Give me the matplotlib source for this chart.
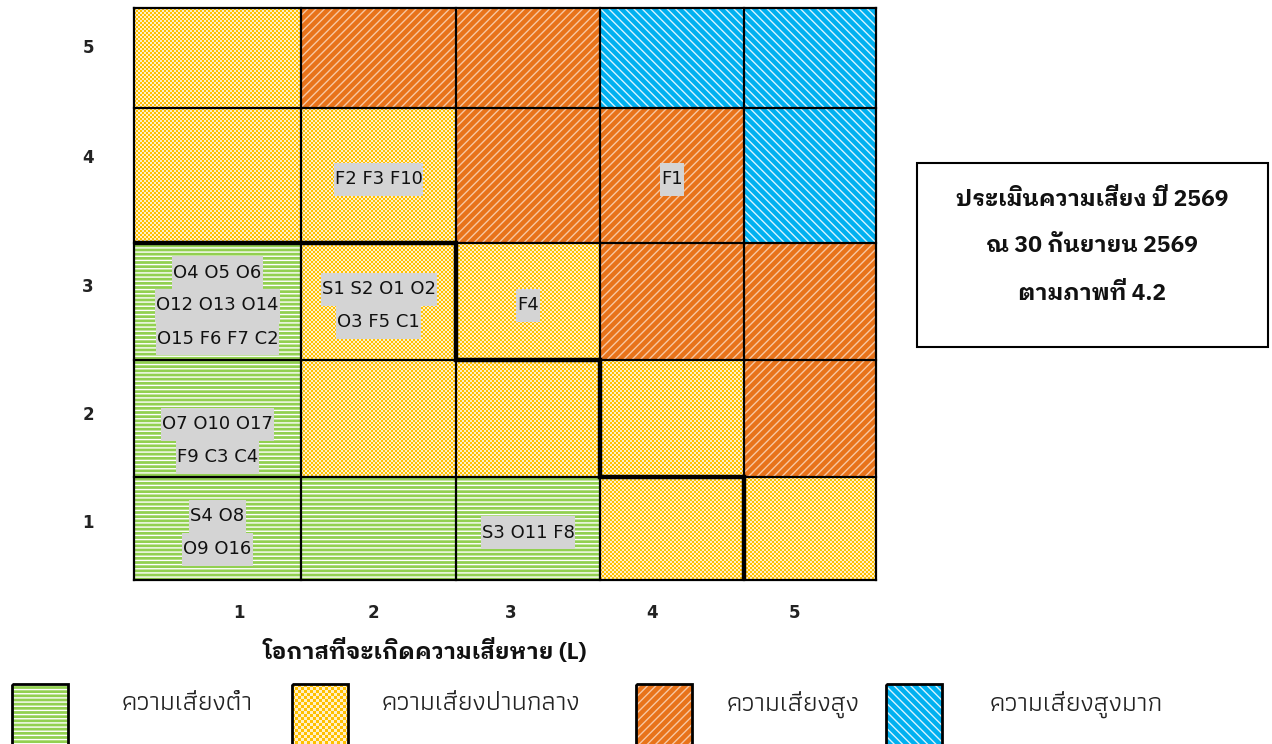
import numpy as np
import matplotlib
matplotlib.use("Agg")
import matplotlib.pyplot as plt
from matplotlib.patches import Rectangle
from matplotlib.colors import ListedColormap

# ---- data ---------------------------------------------------------------
impact_levels = [5, 4, 3, 2, 1]          # rows, top to bottom
likelihood_levels = [1, 2, 3, 4, 5]      # columns, left to right

# risk level of every cell: rows follow impact_levels, columns likelihood_levels
risk_grid = [
    ["medium", "high",   "high",   "very_high", "very_high"],
    ["medium", "medium", "high",   "high",      "very_high"],
    ["low",    "medium", "medium", "high",      "high"],
    ["low",    "medium", "medium", "medium",    "high"],
    ["low",    "low",    "low",    "medium",    "medium"],
]

# risk items placed in the matrix, keyed by (impact, likelihood)
cell_items = {
    (4, 2): ["F2 F3 F10"],
    (4, 4): ["F1"],
    (3, 1): ["O4 O5 O6", "O12 O13 O14", "O15 F6 F7 C2"],
    (3, 2): ["S1 S2 O1 O2", "O3 F5 C1"],
    (3, 3): ["F4"],
    (2, 1): ["O7 O10 O17", "F9 C3 C4"],
    (1, 1): ["S4 O8", "O9 O16"],
    (1, 3): ["S3 O11 F8"],
}

# highest acceptable impact for each likelihood column (risk appetite line)
appetite_limit = [3, 3, 2, 1, 0]

level_names = ["low", "medium", "high", "very_high"]
level_labels = ["ความเสี่ยงต่ำ", "ความเสี่ยงปานกลาง", "ความเสี่ยงสูง", "ความเสี่ยงสูงมาก"]

x_title = "โอกาสที่จะเกิดความเสียหาย (L)"
note_lines = ["ประเมินความเสี่ยง ปี 2569", "ณ 30 กันยายน 2569", "ตามภาพที่ 4.2"]

# ---- styling / layout ---------------------------------------------------
level_style = {
    "low":       dict(fc="#92D050", hatch="----", hc="#FFFFFF"),
    "medium":    dict(fc="#FFC000", checker="#FFF0C8"),
    "high":      dict(fc="#E8731A", hatch="////", hc="#F7C7A2"),
    "very_high": dict(fc="#00B0F0", hatch="\\\\\\\\", hc="#D8F3FD"),
}

W, H = 1272, 744
col_edges = [134, 301, 456, 600, 744, 876]
row_edges = [8, 108, 243, 360, 477, 580]
ytick_x, ytick_pos = 88, [48, 158, 287, 415, 523]
xtick_y, xtick_pos = 613, [239, 373, 511, 652, 794]
line_gap = 33
label_nudge = {(2, 1): 22}

thai_bold = dict(family=["IBM Plex Sans Thai Looped", "DejaVu Sans"], fontweight="bold")
thai_light = dict(family=["Athiti", "DejaVu Sans"])

plt.rcParams["hatch.linewidth"] = 1.0

fig = plt.figure(figsize=(W / 100, H / 100), dpi=100)
ax = fig.add_axes([0, 0, 1, 1])
ax.set_xlim(0, W)
ax.set_ylim(H, 0)
ax.axis("off")


def patterned_rect(x0, y0, w, h, level, z=1, check=2):
    st = level_style[level]
    if "checker" in st:
        nx, ny = int(np.ceil(w / check)), int(np.ceil(h / check))
        tile = np.indices((ny, nx)).sum(axis=0) % 2
        im = ax.imshow(tile, cmap=ListedColormap([st["fc"], st["checker"]]),
                       extent=(x0, x0 + nx * check, y0 + ny * check, y0),
                       interpolation="nearest", aspect="auto", zorder=z)
        im.set_clip_path(Rectangle((x0, y0), w, h, transform=ax.transData))
    else:
        ax.add_patch(Rectangle((x0, y0), w, h, facecolor=st["fc"], edgecolor=st["hc"],
                               hatch=st["hatch"], linewidth=0, zorder=z))


def row_top(impact):
    return row_edges[len(impact_levels) - impact]


# cells
for r, imp in enumerate(impact_levels):
    for c, lik in enumerate(likelihood_levels):
        x0, x1 = col_edges[c], col_edges[c + 1]
        y0, y1 = row_edges[r], row_edges[r + 1]
        patterned_rect(x0, y0, x1 - x0, y1 - y0, risk_grid[r][c])

# grid lines
for x in col_edges:
    ax.plot([x, x], [row_edges[0], row_edges[-1]], color="black", lw=1.6, zorder=2)
for y in row_edges:
    ax.plot([col_edges[0], col_edges[-1]], [y, y], color="black", lw=1.6, zorder=2)

# risk appetite step line (stops once it reaches the bottom edge)
px, py = [col_edges[0]], [row_top(appetite_limit[0])]
for c, lim in enumerate(appetite_limit):
    if c > 0 and lim != appetite_limit[c - 1]:
        px.append(col_edges[c]); py.append(row_top(lim))
    if lim == 0:
        break
    px.append(col_edges[c + 1]); py.append(row_top(lim))
ax.plot(px, py, color="black", lw=3.2, zorder=5, solid_joinstyle="miter",
        solid_capstyle="butt")

# item labels with per-line grey highlight
texts = []
for (imp, lik), lines in cell_items.items():
    r = impact_levels.index(imp)
    c = likelihood_levels.index(lik)
    xc = (col_edges[c] + col_edges[c + 1]) / 2
    yc = (row_edges[r] + row_edges[r + 1]) / 2 + label_nudge.get((imp, lik), 4)
    n = len(lines)
    for i, s in enumerate(lines):
        yl = yc + (i - (n - 1) / 2) * line_gap
        t = ax.text(xc, yl, s, ha="center", va="center", fontsize=13,
                    family="DejaVu Sans", color="#111111", zorder=7)
        texts.append((t, yl))

fig.canvas.draw()
renderer = fig.canvas.get_renderer()
inv = ax.transData.inverted()
for t, yl in texts:
    bb = t.get_window_extent(renderer)
    (x0, _), (x1, _) = inv.transform([(bb.x0, 0), (bb.x1, 0)])
    ax.add_patch(Rectangle((x0 - 1, yl - line_gap / 2), x1 - x0 + 2, line_gap,
                           facecolor="#D4D4D4", edgecolor="none", zorder=6))

# axis tick labels
for v, y in zip(impact_levels, ytick_pos):
    ax.text(ytick_x, y, str(v), ha="center", va="center", fontsize=12,
            fontweight="bold", color="#222222")
for v, x in zip(likelihood_levels, xtick_pos):
    ax.text(x, xtick_y, str(v), ha="center", va="center", fontsize=12,
            fontweight="bold", color="#222222")
ax.text(425, 650, x_title, ha="center", va="center", fontsize=16.5,
        color="#111111", **thai_bold)

# note box
ax.add_patch(Rectangle((917, 163), 351, 184, facecolor="white", edgecolor="black",
                       lw=1.5, zorder=3))
for i, s in enumerate(note_lines):
    ax.text(1092, 199 + 47 * i, s, ha="center", va="center", fontsize=16.5,
            color="#111111", zorder=4, **thai_bold)

# legend
sw_x = [12, 292, 636, 886]
tx_x = [122, 382, 727, 990]
for lvl, lab, sx, tx in zip(level_names, level_labels, sw_x, tx_x):
    patterned_rect(sx, 684, 56, 66, lvl, z=3, check=3)
    ax.add_patch(Rectangle((sx, 684), 56, 66, facecolor="none", edgecolor="black",
                           lw=2, zorder=4))
    ax.text(tx, 704, lab, ha="left", va="center", fontsize=19.5, color="#222222",
            **thai_light)

ax.set_xlim(0, W)
ax.set_ylim(H, 0)
fig.savefig("out.png", dpi=100)
